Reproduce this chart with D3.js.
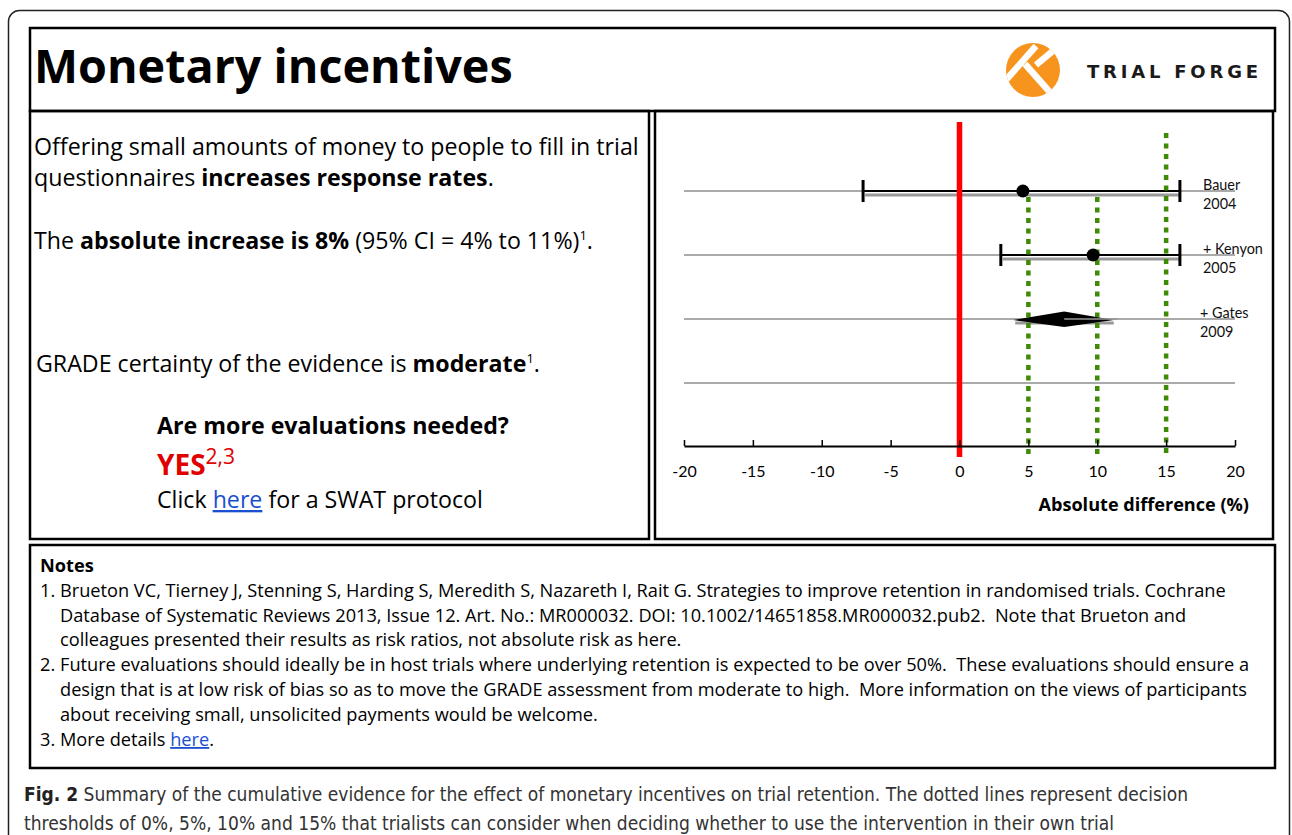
<!DOCTYPE html>
<meta charset="utf-8">
<style>
body { margin: 0; background: #fff; }
svg { display: block; }
text { white-space: pre; }
</style>
<body>
<script src="https://d3js.org/d3.v7.min.js"></script>
<script>
// forest plot data (absolute difference, %)
var studies = ["Bauer", "+ Kenyon", "+ Gates"];
var years = ["2004", "2005", "2009"];
var estimates = [4.6, 9.7, 7.6];
var lowerCI = [-7, 3, 3.9];
var upperCI = [16, 16, 11.2];
var isPooled = [false, false, true];
var rowCount = 4;
var thresholds = [0, 5, 10, 15];
var xTicks = [-20, -15, -10, -5, 0, 5, 10, 15, 20];
var xDomain = [-20, 20];

var font = "'Open Sans', 'Noto Sans', sans-serif";
var gill = "Lato, 'Noto Sans', sans-serif";

var svg = d3.select("body").append("svg").attr("width", 1292).attr("height", 835);

// outer rounded frame
svg.append("rect").attr("x", 8.5).attr("y", 10.5).attr("width", 1281).attr("height", 900).attr("rx", 11)
  .style("fill", "none").style("stroke", "#222").style("stroke-width", 1.5);

function box(x, y, w, h) {
  svg.append("rect").attr("x", x).attr("y", y).attr("width", w).attr("height", h)
    .style("fill", "none").style("stroke", "#000").style("stroke-width", 2.5);
}
box(30, 28, 1245, 83);
box(30, 111, 619, 428);
box(655, 111, 618, 428);
box(30, 545, 1245, 223);

// text with bold / superscript / link parts
function richLine(x, y, size, parts, opts) {
  opts = opts || {};
  var t = svg.append("text").attr("x", x).attr("y", y)
    .style("font-family", opts.family || font).style("font-size", size + "px").style("fill", opts.color || "#000");
  var shift = 0;
  parts.forEach(function(p) {
    if (typeof p === "string") p = {t: p};
    var s = t.append("tspan").text(p.t);
    var want = p.sup ? -size * 0.38 : 0;
    if (want !== shift) { s.attr("dy", want - shift); shift = want; }
    if (p.b) s.style("font-weight", "bold");
    if (p.c) s.style("fill", p.c);
    if (p.u) s.style("text-decoration", "underline").style("fill", "#1a4fd0");
    if (p.sup) s.style("font-size", p.sup + "px");
  });
  if (opts.len) t.attr("textLength", opts.len).attr("lengthAdjust", "spacingAndGlyphs");
  return t;
}

// title
richLine(34, 83, 46.7, [{t: "Monetary incentives", b: true}]);

// logo
var logo = svg.append("g").attr("transform", "translate(1033,70)");
logo.append("clipPath").attr("id", "lc").append("circle").attr("r", 27);
logo.append("circle").attr("r", 27).style("fill", "#f7941d");
var lg = logo.append("g").attr("clip-path", "url(#lc)").style("stroke", "#fff").style("stroke-width", 6.5);
lg.append("line").attr("x1", -27).attr("y1", 10).attr("x2", 3).attr("y2", -24);
lg.append("line").attr("x1", -8).attr("y1", -6).attr("x2", 22).attr("y2", 28);
lg.append("line").attr("x1", 3).attr("y1", -5).attr("x2", 27).attr("y2", -25);
svg.append("text").attr("x", 1087).attr("y", 78).text("TRIAL FORGE")
  .style("font-family", "'DejaVu Sans', sans-serif").style("font-weight", "bold").style("font-size", "18px")
  .style("fill", "#1a1a1a").attr("textLength", 171).attr("lengthAdjust", "spacing");

// left panel text
var bodySize = 23.2;
richLine(34, 155, bodySize, ["Offering small amounts of money to people to fill in trial"]);
richLine(34, 186, bodySize, ["questionnaires ", {t: "increases response rates", b: true}, "."]);
richLine(34, 249, bodySize, ["The ", {t: "absolute increase is 8%", b: true}, " (95% CI = 4% to 11%)", {t: "1", sup: 13}, "."]);
richLine(36, 372, bodySize, ["GRADE certainty of the evidence is ", {t: "moderate", b: true}, {t: "1", sup: 13}, "."]);
richLine(157, 434, bodySize, [{t: "Are more evaluations needed?", b: true}]);
richLine(157, 475, 28, [{t: "YES", b: true, c: "#e00000"}, {t: "2,3", sup: 21, c: "#e00000"}]);
richLine(157, 508, bodySize, ["Click ", {t: "here", u: true}, " for a SWAT protocol"]);

// forest plot
var x = d3.scaleLinear().domain(xDomain).range([684, 1235]);
var rowY = d3.scalePoint().domain(d3.range(rowCount)).range([191, 383]);
var axisY = 446;
var plot = svg.append("g");

plot.selectAll("line.row").data(d3.range(rowCount)).enter().append("line")
  .attr("x1", x(xDomain[0])).attr("x2", x(xDomain[1]))
  .attr("y1", function(d) { return rowY(d); }).attr("y2", function(d) { return rowY(d); })
  .style("stroke", "#aaa").style("stroke-width", 2);

var studyIdx = d3.range(studies.length);
var single = studyIdx.filter(function(i) { return !isPooled[i]; });
var pooled = studyIdx.filter(function(i) { return isPooled[i]; });

// CI shadow + line + caps
plot.selectAll("line.shadow").data(studyIdx).enter().append("line")
  .attr("x1", function(i) { return x(lowerCI[i]) + 2; }).attr("x2", function(i) { return x(upperCI[i]); })
  .attr("y1", function(i) { return rowY(i) + 4; }).attr("y2", function(i) { return rowY(i) + 4; })
  .style("stroke", "#999").style("stroke-width", 3);
plot.selectAll("line.ci").data(single).enter().append("line")
  .attr("x1", function(i) { return x(lowerCI[i]); }).attr("x2", function(i) { return x(upperCI[i]); })
  .attr("y1", function(i) { return rowY(i); }).attr("y2", function(i) { return rowY(i); })
  .style("stroke", "#000").style("stroke-width", 1.8);
single.forEach(function(i) {
  [lowerCI[i], upperCI[i]].forEach(function(v) {
    plot.append("line").attr("x1", x(v)).attr("x2", x(v))
      .attr("y1", rowY(i) - 11).attr("y2", rowY(i) + 11)
      .style("stroke", "#000").style("stroke-width", 3);
  });
});

// thresholds
thresholds.forEach(function(t) {
  var top = t === 0 ? 122 : (t === 15 ? 133 : 197);
  var ln = plot.append("line").attr("x1", x(t)).attr("x2", x(t)).attr("y1", top).attr("y2", axisY + 11);
  if (t === 0) ln.style("stroke", "#ff0000").style("stroke-width", 5.5);
  else ln.style("stroke", "#3f8a06").style("stroke-width", 4.5).style("stroke-dasharray", "5,5.5");
});

// points
plot.selectAll("circle.pt").data(single).enter().append("circle")
  .attr("cx", function(i) { return x(estimates[i]); }).attr("cy", function(i) { return rowY(i); })
  .attr("r", 6.5).style("fill", "#000");

// pooled diamond
pooled.forEach(function(i) {
  var y = rowY(i);
  plot.append("polygon")
    .attr("points", [[x(lowerCI[i]), y + 1], [x(estimates[i]), y - 7.5], [x(upperCI[i]), y + 1], [x(estimates[i]), y + 8]].join(" "))
    .style("fill", "#000");
  plot.append("line").attr("x1", x(estimates[i])).attr("x2", x(upperCI[i]) + 4).attr("y1", y).attr("y2", y)
    .style("stroke", "#999").style("stroke-width", 1.5);
});

// study labels
studyIdx.forEach(function(i) {
  var lx = isPooled[i] ? 1200 : 1203;
  plot.append("text").attr("x", lx).attr("y", rowY(i) - 1).text(studies[i])
    .style("font-family", gill).style("font-size", "14.4px").style("fill", "#111");
  plot.append("text").attr("x", lx).attr("y", rowY(i) + 18).text(years[i])
    .style("font-family", gill).style("font-size", "14.4px").style("fill", "#111");
});

// axis
var axis = d3.axisBottom(x).tickValues(xTicks).tickSizeInner(-6).tickSizeOuter(0)
  .tickFormat(function(d) { return String(d); });
var ag = svg.append("g").attr("transform", "translate(0," + axisY + ")").call(axis);
ag.select(".domain").style("stroke", "#000").style("stroke-width", 2);
ag.selectAll(".tick line").style("stroke", "#000").style("stroke-width", 1.5);
ag.selectAll("text").attr("y", 31).attr("dy", 0)
  .style("font-family", gill).style("font-size", "16px").style("fill", "#000");
svg.append("text").attr("x", 1249).attr("y", 511).attr("text-anchor", "end").text("Absolute difference (%)")
  .style("font-family", font).style("font-weight", "bold").style("font-size", "18.1px");

// notes
var noteSize = 18.2;
richLine(40, 572, noteSize, [{t: "Notes", b: true}]);
var noteNums = [["1.", 597], ["2.", 671], ["3.", 746]];
noteNums.forEach(function(n) { richLine(40, n[1], noteSize, [n[0]]); });
richLine(60, 597, noteSize, ["Brueton VC, Tierney J, Stenning S, Harding S, Meredith S, Nazareth I, Rait G. Strategies to improve retention in randomised trials. Cochrane"]);
richLine(60, 622, noteSize, ["Database of Systematic Reviews 2013, Issue 12. Art. No.: MR000032. DOI: 10.1002/14651858.MR000032.pub2.  Note that Brueton and"]);
richLine(60, 646, noteSize, ["colleagues presented their results as risk ratios, not absolute risk as here."]);
richLine(60, 671, noteSize, ["Future evaluations should ideally be in host trials where underlying retention is expected to be over 50%.  These evaluations should ensure a"]);
richLine(60, 696, noteSize, ["design that is at low risk of bias so as to move the GRADE assessment from moderate to high.  More information on the views of participants"]);
richLine(60, 721, noteSize, ["about receiving small, unsolicited payments would be welcome."]);
richLine(60, 746, noteSize, ["More details ", {t: "here", u: true}, "."]);

// caption
var capFont = "'Liberation Sans Narrow', 'DejaVu Sans Condensed', 'Roboto', sans-serif";
richLine(24, 801, 19, [{t: "Fig. 2", b: true, c: "#222"}, " Summary of the cumulative evidence for the effect of monetary incentives on trial retention. The dotted lines represent decision"],
  {family: capFont, color: "#333", len: 1164});
richLine(24, 830, 19, ["thresholds of 0%, 5%, 10% and 15% that trialists can consider when deciding whether to use the intervention in their own trial"],
  {family: capFont, color: "#333", len: 1090});
</script>
